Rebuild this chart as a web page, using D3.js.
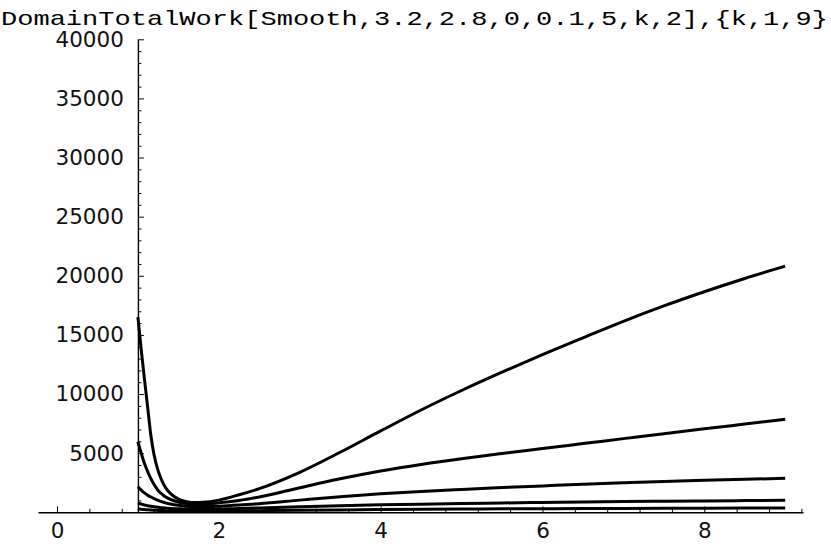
<!DOCTYPE html>
<html>
<head>
<meta charset="utf-8">
<script src="https://cdn.jsdelivr.net/npm/d3@7/dist/d3.min.js"></script>
<style>
  html, body { margin: 0; padding: 0; background: #fff; }
  svg { display: block; }
  .tick text { font-family: "DejaVu Sans", sans-serif; font-size: 21.5px; fill: #111; }
  .domain { stroke: #000; stroke-width: 1.4px; }
  .tick line { stroke: #000; stroke-width: 1px; }
</style>
</head>
<body>
<svg id="chart" width="831" height="546"></svg>
<script>
// Plot title (the generating expression)
const title = "DomainTotalWork[Smooth,3.2,2.8,0,0.1,5,k,2],{k,1,9}";

// Sample positions along k
const kValues = [1, 1.04, 1.08, 1.12, 1.16, 1.2, 1.25, 1.3, 1.35, 1.4, 1.5, 1.6, 1.7, 1.8,
                 2, 2.25, 2.5, 3, 3.5, 4, 4.5, 5, 5.5, 6, 6.5, 7, 7.5, 8, 8.5, 9];

// Total work curves, largest to smallest
const work1 = [16500, 13800, 11300, 8900, 6500, 4850, 3500, 2620, 2000, 1600, 1120, 900, 820, 840,
               1030, 1480, 2000, 3380, 5080, 6880, 8650, 10300, 11850, 13330, 14750, 16150, 17450, 18650, 19770, 20820];
const work2 = [5970, 5000, 4150, 3450, 2850, 2350, 1850, 1520, 1270, 1100, 870, 740, 690, 700,
               800, 1000, 1300, 2080, 2830, 3490, 4050, 4530, 4970, 5390, 5810, 6230, 6650, 7060, 7460, 7860];
const work3 = [2170, 1880, 1640, 1450, 1290, 1150, 1000, 880, 780, 700, 590, 520, 485, 480,
               520, 610, 730, 1030, 1320, 1560, 1760, 1930, 2090, 2230, 2370, 2490, 2600, 2700, 2790, 2874];
const work4 = [800, 700, 620, 560, 510, 465, 420, 385, 355, 330, 295, 275, 265, 265,
               280, 320, 370, 470, 560, 630, 690, 740, 790, 830, 870, 905, 935, 965, 990, 1014];
const work5 = [300, 265, 235, 210, 190, 175, 160, 148, 138, 130, 118, 110, 106, 106,
               112, 125, 140, 175, 205, 230, 252, 272, 290, 305, 318, 330, 340, 350, 357, 363];

// Tick values
const xMajorTicks = [0, 2, 4, 6, 8];
const xMinorTicks = [0.4, 0.8, 1.2, 1.6, 2.4, 2.8, 3.2, 3.6, 4.4, 4.8, 5.2, 5.6, 6.4, 6.8, 7.2, 7.6, 8.4, 8.8, 9.2];
const yMajorTicks = [5000, 10000, 15000, 20000, 25000, 30000, 35000, 40000];
const yMinorTicks = [1000, 2000, 3000, 4000, 6000, 7000, 8000, 9000, 11000, 12000, 13000, 14000,
                     16000, 17000, 18000, 19000, 21000, 22000, 23000, 24000, 26000, 27000, 28000, 29000,
                     31000, 32000, 33000, 34000, 36000, 37000, 38000, 39000];

const series = [work1, work2, work3, work4, work5];

const svg = d3.select("#chart");

const x = d3.scaleLinear().domain([-0.235, 9.22]).range([38, 803]);
const y = d3.scaleLinear().domain([0, 40000]).range([512.3, 39.3]);

// Title
svg.append("text")
  .attr("x", 1)
  .attr("y", 25)
  .attr("textLength", 827)
  .attr("lengthAdjust", "spacingAndGlyphs")
  .style("font-family", "'Liberation Mono', 'Courier New', monospace")
  .style("font-size", "21px")
  .text(title);

// x axis: minor ticks, then major ticks with labels
svg.append("g")
  .attr("transform", `translate(0,${y(0)})`)
  .call(d3.axisBottom(x).tickValues(xMinorTicks).tickSizeInner(-3.5).tickSizeOuter(0).tickFormat(""))
  .call(g => g.select(".domain").remove());

svg.append("g")
  .attr("transform", `translate(0,${y(0)})`)
  .call(d3.axisBottom(x).tickValues(xMajorTicks).tickSizeInner(-6).tickSizeOuter(0).tickPadding(10)
        .tickFormat(d3.format("d")));

// y axis at k = 1
svg.append("g")
  .attr("transform", `translate(${x(1)},0)`)
  .call(d3.axisLeft(y).tickValues(yMinorTicks).tickSizeInner(-3.5).tickSizeOuter(0).tickFormat(""))
  .call(g => g.select(".domain").remove());

svg.append("g")
  .attr("transform", `translate(${x(1)},0)`)
  .call(d3.axisLeft(y).tickValues(yMajorTicks).tickSizeInner(-6).tickSizeOuter(0).tickPadding(14)
        .tickFormat(d3.format("d")));

// Curves
const line = d3.line()
  .x((d, i) => x(kValues[i]))
  .y(d => y(d))
  .curve(d3.curveMonotoneX);

svg.append("g")
  .selectAll("path")
  .data(series)
  .join("path")
  .attr("d", line)
  .attr("fill", "none")
  .attr("stroke", "#000")
  .attr("stroke-width", 3)
  .attr("stroke-linejoin", "round");
</script>
</body>
</html>
